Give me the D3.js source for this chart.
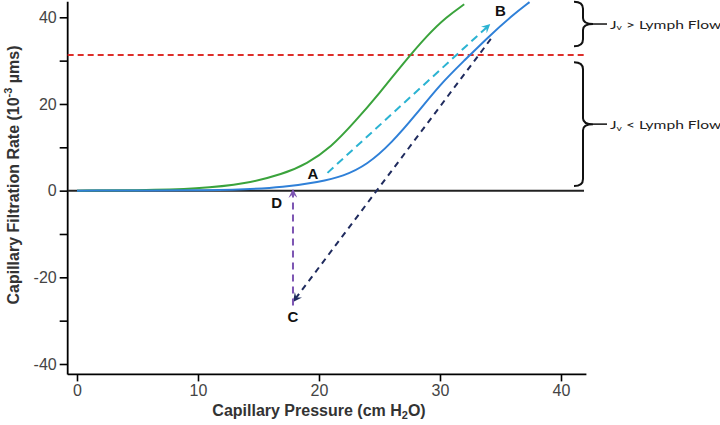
<!DOCTYPE html>
<html>
<head>
<meta charset="utf-8">
<script src="https://cdn.jsdelivr.net/npm/d3@7/dist/d3.min.js"></script>
<style>
  body { margin: 0; background: #fff; }
  svg { display: block; font-family: Arial, "Liberation Sans", sans-serif; }
</style>
</head>
<body>
<div id="chart"></div>
<script>
// curves (pressure in cm H2O, rate in 10^-3 µms)
const greenX = [0, 5, 10, 14, 17, 19, 21, 23, 25, 27, 29, 30.5, 32];
const greenY = [0, 0.05, 0.4, 1.6, 3.8, 6.2, 10, 16, 22.5, 29.5, 36, 40, 43];
const blueX = [0, 10, 14, 17, 20, 22, 24, 26, 28, 30, 32, 34, 36, 37.4];
const blueY = [0, 0.05, 0.3, 0.8, 2, 3.3, 6, 11, 17.5, 24.5, 30, 35.5, 40.5, 43.5];

// arrows: [x1, y1, x2, y2]
const arrowAB = [20.7, 4.1, 34.1, 38.3];
const arrowBC = [34.2, 35, 17.9, -25.5];
const arrowCD = [17.85, -26.5, 17.85, 0.2];

const pointNames = ["A", "B", "C", "D"];
const pointX = [19.5, 35.0, 17.85, 16.5];
const pointY = [4.0, 41.5, -29.0, -2.8];

const lymphFlow = 31.3;
const xTicks = [0, 10, 20, 30, 40];
const yTicks = [-40, -30, -20, -10, 0, 10, 20, 30, 40];
const yLabelled = [-40, -20, 0, 20, 40];

const svg_width = 720, svg_height = 425;

const x = d3.scaleLinear().domain([0, 40]).range([77, 561]);
const y = d3.scaleLinear().domain([-40, 40]).range([364, 17.3]);

const svg = d3.select("#chart")
    .append("svg")
    .attr("width", svg_width)
    .attr("height", svg_height);

// markers for the dashed arrows
const defs = svg.append("defs");
const addMarker = (id, colour) => {
    defs.append("marker")
        .attr("id", id)
        .attr("viewBox", "0 -5 10 10")
        .attr("refX", 9)
        .attr("refY", 0)
        .attr("markerWidth", 9)
        .attr("markerHeight", 9)
        .attr("markerUnits", "userSpaceOnUse")
        .attr("orient", "auto")
        .append("path")
            .attr("fill", colour)
            .attr("d", "M0,-5L10,0L0,5L4,0Z");
};
addMarker("arrow-cyan", "#2bb3d2");
addMarker("arrow-navy", "#1f2b5e");
addMarker("arrow-purple", "#7d55b3");

// axes
const yAxis = svg.append("g")
    .attr("transform", `translate(${x(-0.77)},0)`)
    .call(d3.axisLeft(y).tickValues(yTicks).tickSize(8)
        .tickFormat(d => yLabelled.includes(d) ? d : ""));
yAxis.select(".domain").remove();
yAxis.append("line")
    .attr("y1", y(43.6)).attr("y2", y(-42.4))
    .attr("stroke", "#000").attr("stroke-width", 1.8);

const xAxis = svg.append("g")
    .attr("transform", `translate(0,${y(-42.4)})`)
    .call(d3.axisBottom(x).tickValues(xTicks).tickSize(7));
xAxis.select(".domain").remove();
xAxis.append("line")
    .attr("x1", x(-0.77)).attr("x2", x(42.1))
    .attr("stroke", "#000").attr("stroke-width", 1.8);

svg.selectAll(".tick line").attr("stroke", "#000").attr("stroke-width", 1.6);
svg.selectAll(".tick text")
    .attr("fill", "#444")
    .attr("font-size", null)
    .style("font-size", "16px")
    .style("font-family", "Arial, 'Liberation Sans', sans-serif");
yAxis.selectAll(".tick text").attr("x", -11);
xAxis.selectAll(".tick text").attr("y", 10);

// axis titles
svg.append("text")
    .attr("transform", `translate(19,175) rotate(-90)`)
    .attr("text-anchor", "middle")
    .attr("fill", "#333")
    .style("font-size", "16px")
    .style("font-weight", "bold")
    .call(t => {
        t.append("tspan").text("Capillary Filtration Rate (10");
        t.append("tspan").attr("dy", -7).style("font-size", "11px").text("-3");
        t.append("tspan").attr("dy", 7).text("  µms)");
    });

svg.append("text")
    .attr("x", x(20))
    .attr("y", 416)
    .attr("text-anchor", "middle")
    .attr("fill", "#333")
    .style("font-size", "16px")
    .style("font-weight", "bold")
    .call(t => {
        t.append("tspan").text("Capillary Pressure (cm H");
        t.append("tspan").attr("dy", 3).style("font-size", "11px").text("2");
        t.append("tspan").attr("dy", -3).text("O)");
    });

// zero line and lymph flow line
svg.append("line")
    .attr("x1", x(-0.77)).attr("x2", x(41.9))
    .attr("y1", y(0)).attr("y2", y(0))
    .attr("stroke", "#222").attr("stroke-width", 2);

svg.append("line")
    .attr("x1", x(-0.77)).attr("x2", x(41.9))
    .attr("y1", y(lymphFlow)).attr("y2", y(lymphFlow))
    .attr("stroke", "#dd2e2a").attr("stroke-width", 1.8)
    .attr("stroke-dasharray", "6,4");

// curves
const line = d3.line()
    .x(d => x(d[0]))
    .y(d => y(d[1]))
    .curve(d3.curveBasis);

svg.append("path")
    .datum(greenX.map((d, i) => [d, greenY[i]]))
    .attr("fill", "none")
    .attr("stroke", "#3aa33c")
    .attr("stroke-width", 2)
    .attr("d", line);

svg.append("path")
    .datum(blueX.map((d, i) => [d, blueY[i]]))
    .attr("fill", "none")
    .attr("stroke", "#2f80d8")
    .attr("stroke-width", 2)
    .attr("d", line);

// dashed arrows
const drawArrow = (a, colour, marker, dash) => {
    svg.append("line")
        .attr("x1", x(a[0])).attr("y1", y(a[1]))
        .attr("x2", x(a[2])).attr("y2", y(a[3]))
        .attr("stroke", colour)
        .attr("stroke-width", 2)
        .attr("stroke-dasharray", dash)
        .attr("marker-end", `url(#${marker})`);
};
drawArrow(arrowAB, "#2bb3d2", "arrow-cyan", "8,5");
drawArrow(arrowBC, "#1f2b5e", "arrow-navy", "6,5");
drawArrow(arrowCD, "#7d55b3", "arrow-purple", "7,5");

// point labels
svg.append("g")
    .selectAll("text")
    .data(pointNames)
    .join("text")
        .attr("x", (d, i) => x(pointX[i]))
        .attr("y", (d, i) => y(pointY[i]))
        .attr("text-anchor", "middle")
        .attr("dominant-baseline", "central")
        .attr("fill", "#111")
        .style("font-size", "15px")
        .style("font-weight", "bold")
        .text(d => d);

// braces on the right
const brace = (top, bottom) => {
    const x0 = 574, sx = 583, px = 593;
    const mid = (top + bottom) / 2;
    return `M${x0},${top} Q${sx},${top} ${sx},${top + 7}
            L${sx},${mid - 6} Q${sx},${mid} ${px},${mid}
            Q${sx},${mid} ${sx},${mid + 6}
            L${sx},${bottom - 7} Q${sx},${bottom} ${x0},${bottom}`;
};

const braces = [
    {top: y(43.6), bottom: y(33.3), text: " > Lymph Flow"},
    {top: y(29.6), bottom: y(1.1), text: " < Lymph Flow"}
];

braces.forEach(b => {
    svg.append("path")
        .attr("d", brace(b.top, b.bottom))
        .attr("fill", "none")
        .attr("stroke", "#111")
        .attr("stroke-width", 2);
    const mid = (b.top + b.bottom) / 2;
    svg.append("line")
        .attr("x1", 593).attr("x2", 607)
        .attr("y1", mid).attr("y2", mid)
        .attr("stroke", "#111").attr("stroke-width", 1.5);
    svg.append("text")
        .attr("transform", `translate(610,${mid}) scale(1.3,1)`)
        .attr("dominant-baseline", "central")
        .attr("fill", "#222")
        .style("font-family", "Lato, 'Open Sans', sans-serif")
        .style("font-size", "12px")
        .call(t => {
            t.append("tspan").text("J");
            t.append("tspan").attr("dy", 3).style("font-size", "8px").text("v");
            t.append("tspan").attr("dy", -3).text(b.text);
        });
});
</script>
</body>
</html>
